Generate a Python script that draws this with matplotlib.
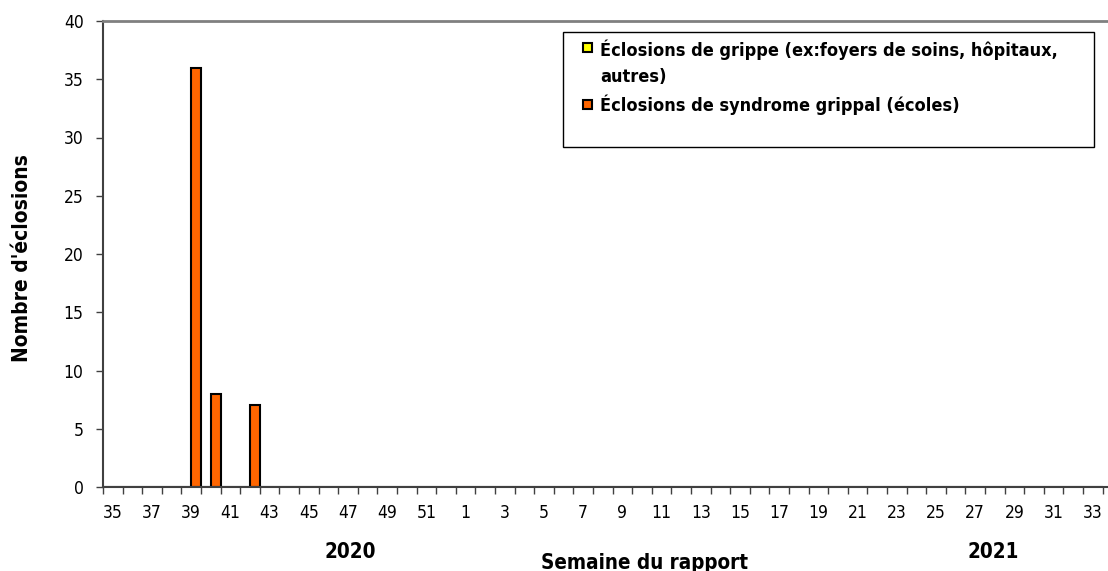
import matplotlib
matplotlib.use("Agg")
import matplotlib.pyplot as plt
from matplotlib.patches import Rectangle
import numpy as np

plt.rcParams['font.family'] = ['DejaVu Sans']
plt.rcParams['font.stretch'] = 'condensed'

# Semaines (2020: 35-52, 2021: 1-33)
weeks = [35, 36, 37, 38, 39, 40, 41, 42, 43, 44, 45, 46, 47, 48, 49, 50, 51, 52,
         1, 2, 3, 4, 5, 6, 7, 8, 9, 10, 11, 12, 13, 14, 15, 16, 17, 18, 19, 20,
         21, 22, 23, 24, 25, 26, 27, 28, 29, 30, 31, 32, 33]

# Éclosions de grippe (foyers de soins, hôpitaux, autres)
grippe = [0, 0, 0, 0, 0, 0, 0, 0, 0, 0, 0, 0, 0, 0, 0, 0, 0, 0,
          0, 0, 0, 0, 0, 0, 0, 0, 0, 0, 0, 0, 0, 0, 0, 0, 0, 0, 0, 0,
          0, 0, 0, 0, 0, 0, 0, 0, 0, 0, 0, 0, 0]

# Éclosions de syndrome grippal (écoles)
sg_ecoles = [0, 0, 0, 0, 36, 8, 0, 7, 0, 0, 0, 0, 0, 0, 0, 0, 0, 0,
             0, 0, 0, 0, 0, 0, 0, 0, 0, 0, 0, 0, 0, 0, 0, 0, 0, 0, 0, 0,
             0, 0, 0, 0, 0, 0, 0, 0, 0, 0, 0, 0, 0]

label_grippe = "Éclosions de grippe (ex:foyers de soins, hôpitaux,\nautres)"
label_sg = "Éclosions de syndrome grippal (écoles)"
col_grippe = '#FFFF00'
col_sg = '#FF6600'

W, H = 1108, 571
def fx(px):
    return px / W
def fy(py):
    return 1 - py / H

fig = plt.figure(figsize=(W / 100, H / 100), dpi=100)
ax = fig.add_axes([fx(103), fy(487), 1 - fx(103), (487 - 21) / H])

n = len(weeks)
x = np.arange(n)
ax.bar(x + 0.25, grippe, width=0.5, color=col_grippe, edgecolor='black', linewidth=1.5, zorder=2)
ax.bar(x + 0.75, sg_ecoles, width=0.5, color=col_sg, edgecolor='black', linewidth=1.5, zorder=2)

ax.set_xlim(0, n + 0.28)
ax.set_ylim(0, 40)

ax.spines['right'].set_visible(False)
ax.spines['top'].set_color('#808080')
ax.spines['top'].set_linewidth(2)
for s in ['left', 'bottom']:
    ax.spines[s].set_color('#404040')
    ax.spines[s].set_linewidth(1.5)

ax.set_yticks(np.arange(0, 41, 5))
ax.tick_params(axis='y', labelsize=12.5, length=5, width=1, color='#404040', pad=9)

ax.set_xticks(np.arange(0, n + 1), minor=True)
ax.set_xticks(x[::2] + 0.5)
ax.set_xticklabels([str(w) for w in weeks[::2]])
ax.tick_params(axis='x', which='major', length=0, labelsize=12.5, pad=12)
ax.tick_params(axis='x', which='minor', length=5, width=1, color='#404040')

fig.text(fx(22), fy(258), "Nombre d'éclosions", rotation=90, ha='center', va='center',
         fontsize=15, fontweight='bold')
fig.text(fx(645), fy(569), "Semaine du rapport", ha='center', va='baseline',
         fontsize=14.8, fontweight='bold')
fig.text(fx(350), fy(558), "2020", ha='center', va='baseline', fontsize=14.8, fontweight='bold')
fig.text(fx(993), fy(558), "2021", ha='center', va='baseline', fontsize=14.8, fontweight='bold')

# légende
fig.patches.append(Rectangle((fx(563), fy(147)), (1094 - 563) / W, (147 - 32) / H,
                             transform=fig.transFigure, facecolor='white', edgecolor='black',
                             linewidth=1, zorder=3))
for col, top in [(col_grippe, 43), (col_sg, 100)]:
    fig.patches.append(Rectangle((fx(583), fy(top + 9)), 9 / W, 9 / H, transform=fig.transFigure,
                                 facecolor=col, edgecolor='black', linewidth=1.5, zorder=4))
fig.text(fx(600), fy(82), label_grippe, ha='left', va='baseline', fontsize=13,
         fontweight='bold', linespacing=1.55, zorder=5)
fig.text(fx(600), fy(111), label_sg, ha='left', va='baseline', fontsize=13,
         fontweight='bold', zorder=5)

fig.savefig("out.png", dpi=100)
